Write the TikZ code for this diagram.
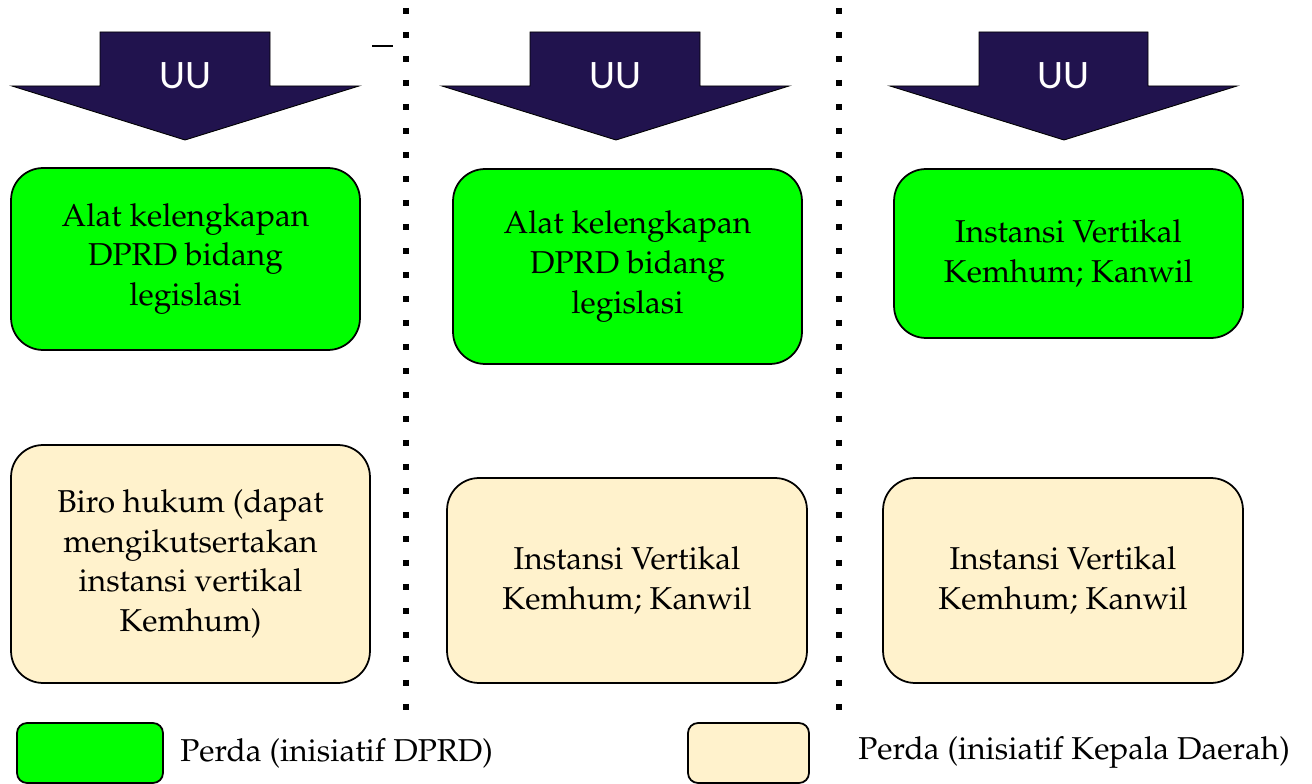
\documentclass[tikz,border=0pt]{standalone}
\usepackage[T1]{fontenc}
\usepackage{fontspec}
\newfontfamily\uufont{Carlito}
\newcommand\palfont{\fontencoding{T1}\fontfamily{ppl}\fontsize{18}{22.6}\selectfont}
\definecolor{navy}{RGB}{33,19,78}
\definecolor{boxgreen}{RGB}{0,255,0}
\definecolor{boxtan}{RGB}{255,242,204}
\tikzset{
  uuarrow/.style={fill=navy,draw=black,line width=0.5pt,line join=miter},
  uutext/.style={text=white,font=\uufont\fontsize{23}{27}\selectfont,inner sep=0pt},
  basebox/.style={draw=black,line width=1pt,rounded corners=0.64cm,align=center,
    font=\palfont,inner sep=2pt},
  greenbox/.style={basebox,fill=boxgreen},
  tanbox/.style={basebox,fill=boxtan},
  legbox/.style={draw=black,line width=1pt,rounded corners=0.2cm,
    minimum width=#1,minimum height=1.2cm,inner sep=0pt},
  legtext/.style={font=\palfont,anchor=west,inner sep=0pt},
  sepline/.style={line width=0.12cm,dash pattern=on 0.12cm off 0.36cm,line cap=butt}
}
\begin{document}
\begin{tikzpicture}[x=0.02cm,y=-0.02cm]
\useasboundingbox (0,0) rectangle (1312,784);

% separator lines
\coordinate (s1top) at (406,8);
\coordinate (s1bot) at (406,712);
\coordinate (s2top) at (839,8);
\coordinate (s2bot) at (839,712);
\draw[sepline] (s1top) -- (s1bot);
\draw[sepline] (s2top) -- (s2bot);

% stray dash
\coordinate (dashA) at (372,46);
\coordinate (dashB) at (393,46);
\draw[line width=0.9pt] (dashA) -- (dashB);

% arrows
\draw[uuarrow] (100,32) -- (270,32) -- (270,86) -- (359,86) -- (185,140) -- (12,86) -- (100,86) -- cycle;
\node[uutext] (uu1) at (185,76) {UU};
\draw[uuarrow] (530,32) -- (700,32) -- (700,86) -- (789,86) -- (616,140) -- (442,86) -- (530,86) -- cycle;
\node[uutext] (uu2) at (615,76) {UU};
\draw[uuarrow] (979,32) -- (1148,32) -- (1148,86) -- (1237,86) -- (1064,140) -- (890,86) -- (979,86) -- cycle;
\node[uutext] (uu3) at (1063,76) {UU};

% green boxes
\node[greenbox,minimum width=6.98cm,minimum height=3.64cm] (g1) at (185.5,259)
  {Alat kelengkapan\\DPRD bidang\\legislasi};
\node[greenbox,minimum width=6.98cm,minimum height=3.9cm] (g2) at (627.5,266.5)
  {Alat kelengkapan\\DPRD bidang\\legislasi};
\node[greenbox,minimum width=6.98cm,minimum height=3.38cm] (g3) at (1068.5,253.5)
  {Instansi Vertikal\\Kemhum; Kanwil};

% tan boxes
\node[tanbox,minimum width=7.18cm,minimum height=4.76cm] (t1) at (190.5,564)
  {Biro hukum (dapat\\mengikutsertakan\\instansi vertikal\\Kemhum)};
\node[tanbox,minimum width=7.2cm,minimum height=4.1cm] (t2) at (627,580.5)
  {Instansi Vertikal\\Kemhum; Kanwil};
\node[tanbox,minimum width=7.2cm,minimum height=4.1cm] (t3) at (1063,580.5)
  {Instansi Vertikal\\Kemhum; Kanwil};

% legend
\node[legbox=2.92cm,fill=boxgreen] (lg) at (90,753) {};
\node[legtext] (lgt) at (180,753) {Perda (inisiatif DPRD)};
\node[legbox=2.42cm,fill=boxtan] (lt) at (748.5,753) {};
\node[legtext] (ltt) at (858,753) {Perda (inisiatif Kepala Daerah)};
\end{tikzpicture}
\end{document}
